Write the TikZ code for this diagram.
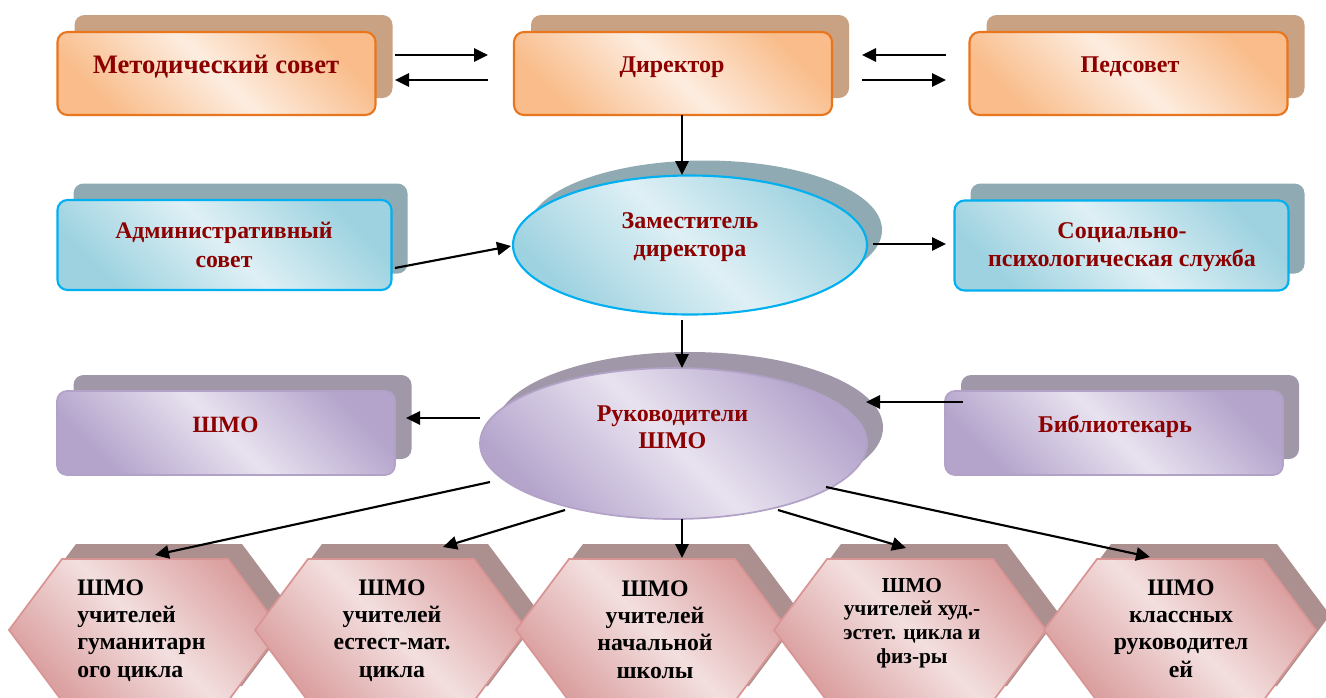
\documentclass[tikz,border=0pt]{standalone}
\usepackage{fontspec}
\setmainfont{Liberation Serif}
\usetikzlibrary{arrows.meta,shapes.geometric}
\definecolor{dred}{HTML}{8C0000}
\definecolor{oBrd}{HTML}{E8761E}
\definecolor{oDk}{HTML}{F9BC8A}
\definecolor{oLt}{HTML}{FDEDE0}
\definecolor{oSh}{HTML}{C9A283}
\definecolor{bBrd}{HTML}{00B0F0}
\definecolor{bDk}{HTML}{9ED2E0}
\definecolor{bLt}{HTML}{DFF0F5}
\definecolor{bSh}{HTML}{8FAAB2}
\definecolor{pBrd}{HTML}{B3A2C7}
\definecolor{pDk}{HTML}{B4A4CC}
\definecolor{pLt}{HTML}{E8E2EF}
\definecolor{pSh}{HTML}{A098A8}
\definecolor{hBrd}{HTML}{D99594}
\definecolor{hDk}{HTML}{DBA0A0}
\definecolor{hLt}{HTML}{F3DFDF}
\definecolor{hSh}{HTML}{AC8F8F}
\newcommand\hexat[2]{%
  \fill[hSh] ({#1+14-136},{#2-15}) -- ({#1+14-83},{#2-15-71}) -- ({#1+14+83},{#2-15-71}) -- ({#1+14+136},{#2-15}) -- ({#1+14+83},{#2-15+71}) -- ({#1+14-83},{#2-15+71}) -- cycle;
  \path[hexfill] ({#1-136},#2) -- ({#1-83},{#2-71}) -- ({#1+83},{#2-71}) -- ({#1+136},#2) -- ({#1+83},{#2+71}) -- ({#1-83},{#2+71}) -- cycle;
}
\begin{document}
\begin{tikzpicture}[x=0.75pt,y=-0.75pt,
  rbox/.style={rectangle, rounded corners=7.5pt, inner sep=0pt},
  obox/.style={rbox, minimum width=238.5pt, minimum height=62.25pt},
  bbox/.style={rbox, minimum width=250.5pt, minimum height=67.5pt},
  pbox/.style={rbox, minimum width=253.5pt, minimum height=63pt},
  ofill/.style={top color=oDk, bottom color=oDk, middle color=oLt, shading angle=135, draw=oBrd, line width=1.6pt},
  bfill/.style={top color=bDk, bottom color=bDk, middle color=bLt, shading angle=135, draw=bBrd, line width=1.6pt},
  pfill/.style={top color=pDk, bottom color=pDk, middle color=pLt, shading angle=135, draw=pBrd, line width=1.3pt},
  hexfill/.style={top color=hDk, bottom color=hDk, middle color=hLt, shading angle=135, draw=hBrd, line width=1.3pt},
  oshadow/.style={fill=oSh, draw=none},
  bshadow/.style={fill=bSh, draw=none},
  pshadow/.style={fill=pSh, draw=none},
  ell/.style={ellipse, inner sep=0pt},
  lbl/.style={font=\bfseries\fontsize{18pt}{21.75pt}\selectfont, text=dred, inner sep=0pt, align=center, anchor=base},
  hlbl/.style={font=\bfseries\fontsize{17.8pt}{20.5pt}\selectfont, text=black, inner sep=0pt, align=center, anchor=base},
  arr/.style={-{Triangle[length=10.5pt,width=10pt]}, line width=1.6pt, black}
]
\useasboundingbox (0,0) rectangle (1326,697);
\fill[white] (0,0) rectangle (1326,697);

% ---- top row ----
\node[obox, oshadow] (msS) at (233.5,56.5) {};
\node[obox, ofill] (ms) at (216.5,73.5) {};
\node[obox, oshadow] (dirS) at (690,56.5) {};
\node[obox, ofill] (dir) at (673,73.5) {};
\node[obox, oshadow] (pedS) at (1145.5,56.5) {};
\node[obox, ofill] (ped) at (1128.5,73.5) {};

% ---- second row ----
\node[bbox, bshadow] (admS) at (240.5,228.5) {};
\node[bbox, bfill] (adm) at (224.5,245) {};
\node[ell, bshadow, minimum width=265.5pt, minimum height=104.25pt] (zamS) at (705,230) {};
\node[ell, bfill, minimum width=265.5pt, minimum height=104.25pt] (zam) at (690,245) {};
\node[bbox, bshadow] (socS) at (1137.5,228.5) {};
\node[bbox, bfill] (soc) at (1121.5,245.5) {};

% ---- third row ----
\node[pbox, pshadow] (shmoS) at (242.5,417) {};
\node[pbox, pfill] (shmo) at (226,433) {};
\node[ell, pshadow, minimum width=290.25pt, minimum height=113.25pt] (rukS) at (689.5,427.5) {};
\node[ell, pfill, minimum width=290.25pt, minimum height=113.25pt] (ruk) at (673.5,443.5) {};
\node[pbox, pshadow] (bibS) at (1130,417) {};
\node[pbox, pfill] (bib) at (1114,433) {};

% ---- hexagons ----
\hexat{145}{630}
\hexat{391}{630}
\hexat{652}{630}
\hexat{910}{630}
\hexat{1180}{630}

% ---- labels (base anchor = baseline of last line) ----
\node[lbl, font=\bfseries\fontsize{20pt}{24pt}\selectfont] (msT) at (216,73) {Методический совет};
\node[lbl] (dirT) at (672,72) {Директор};
\node[lbl] (pedT) at (1130,72) {Педсовет};
\node[lbl, font=\bfseries\fontsize{17.8pt}{21.75pt}\selectfont] (admT) at (224,267) {Административный\\совет};
\node[lbl, font=\bfseries\fontsize{18pt}{21pt}\selectfont] (zamT) at (690,256) {Заместитель\\директора};
\node[lbl, font=\bfseries\fontsize{18pt}{21pt}\selectfont] (socT) at (1122,266) {Социально-\\психологическая служба};
\node[lbl, font=\bfseries\fontsize{17.5pt}{21pt}\selectfont] (shmoT) at (225.5,432) {ШМО};
\node[lbl, font=\bfseries\fontsize{18pt}{20.25pt}\selectfont] (rukT) at (672.5,448) {Руководители\\ШМО};
\node[lbl] (bibT) at (1115,432) {Библиотекарь};

\node[hlbl, align=left, anchor=base west] (h1T) at (77,677) {ШМО\\учителей\\гуманитарн\\ого цикла};
\node[hlbl] (h2T) at (392,677) {ШМО\\учителей\\естест-мат.\\цикла};
\node[hlbl] (h3T) at (655,678) {ШМО\\учителей\\начальной\\школы};
\node[hlbl, font=\bfseries\fontsize{16pt}{17.75pt}\selectfont] (h4T) at (912,663) {ШМО\\учителей худ.-\\эстет. цикла и\\физ-ры};
\node[hlbl] (h5T) at (1181,677) {ШМО\\классных\\руководител\\ей};

% ---- connector ends ----
\coordinate (c1a) at (395,55);  \coordinate (c1b) at (488,55);
\coordinate (c2a) at (488,80);  \coordinate (c2b) at (395,80);
\coordinate (c3a) at (946,55);  \coordinate (c3b) at (862,55);
\coordinate (c4a) at (862,80);  \coordinate (c4b) at (946,80);
\coordinate (c5a) at (682,115); \coordinate (c5b) at (682,175);
\coordinate (c6a) at (395,268); \coordinate (c6b) at (511,246);
\coordinate (c7a) at (873,244); \coordinate (c7b) at (946,244);
\coordinate (c8a) at (682,320); \coordinate (c8b) at (682,368);
\coordinate (c9a) at (480,418); \coordinate (c9b) at (406,418);
\coordinate (c10a) at (963,402); \coordinate (c10b) at (866,402);
\coordinate (c11a) at (490,482); \coordinate (c11b) at (155,555);
\coordinate (c12a) at (565,510); \coordinate (c12b) at (443,547);
\coordinate (c13a) at (682,519); \coordinate (c13b) at (682,558);
\coordinate (c14a) at (778,510); \coordinate (c14b) at (906,548);
\coordinate (c15a) at (826,487); \coordinate (c15b) at (1150,557);

\foreach \i in {1,...,15} {\draw[arr] (c\i a) -- (c\i b);}
\end{tikzpicture}
\end{document}
